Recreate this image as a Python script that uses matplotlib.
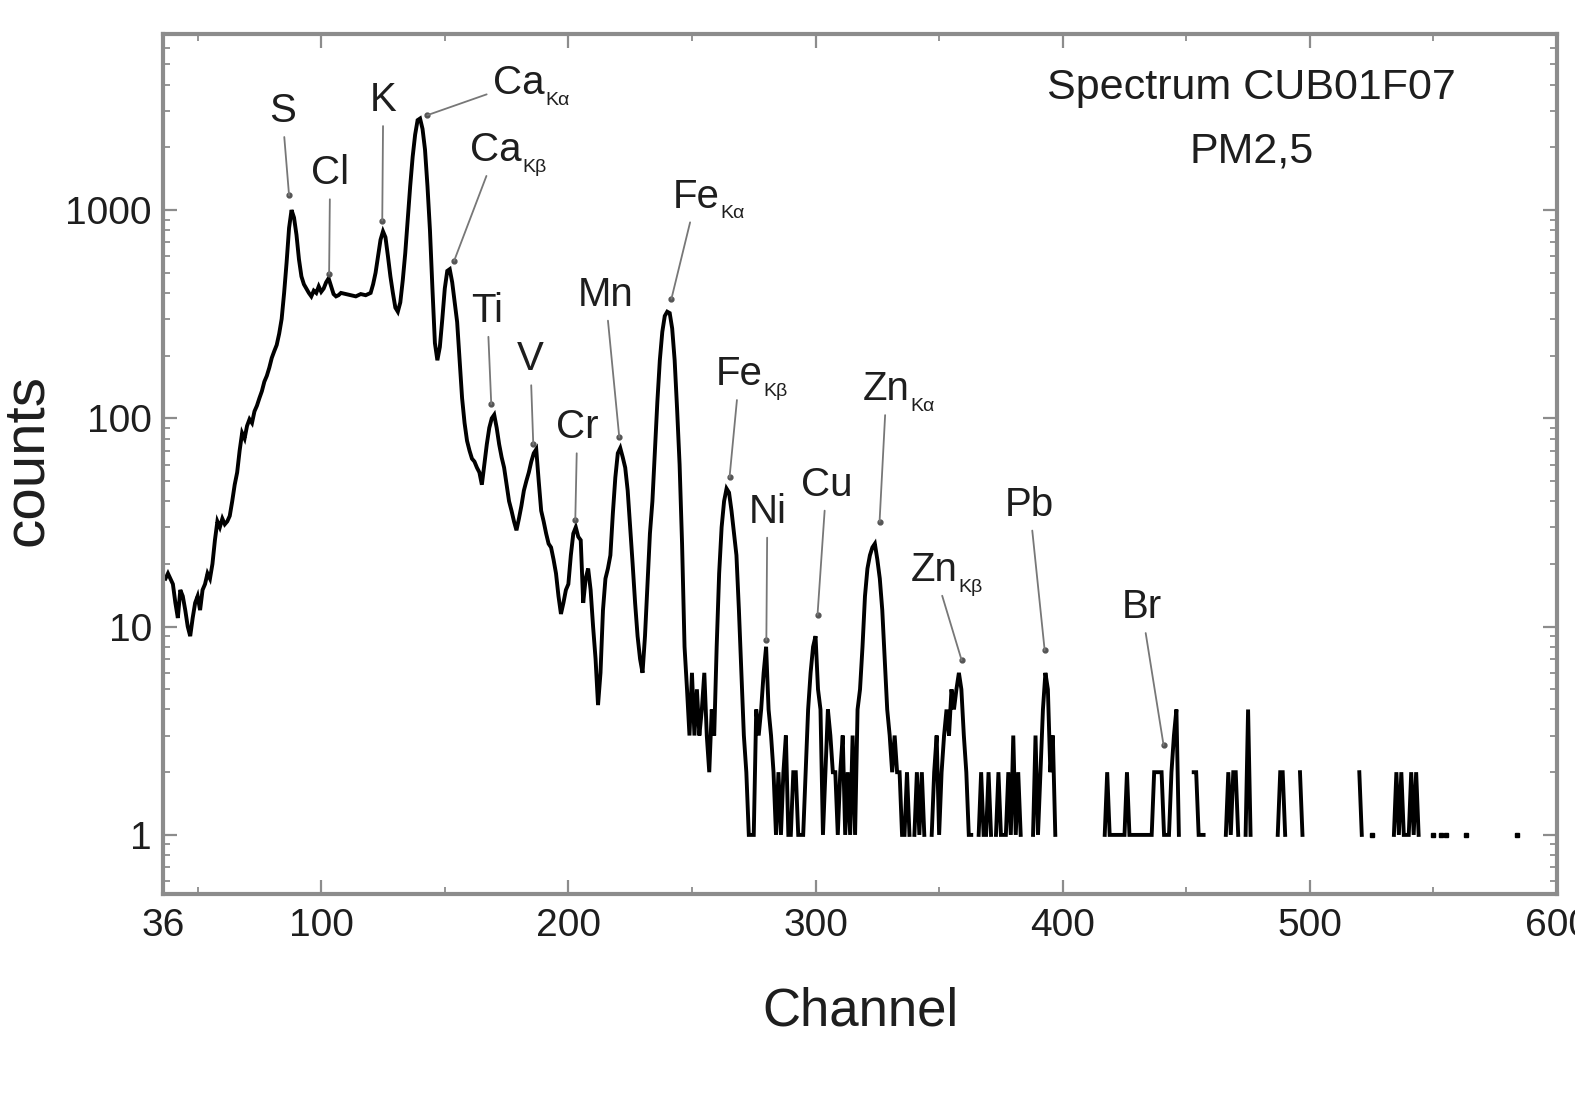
import numpy as np
import matplotlib
matplotlib.use("Agg")
import matplotlib.pyplot as plt
from matplotlib.text import Text

# ---------------- data ----------------
channels = [
    37, 38, 40, 41, 42, 43, 44, 45, 46, 47, 48, 49, 50, 51, 52, 53, 54, 55, 56, 57,
    58, 59, 60, 61, 62, 63, 64, 65, 66, 67, 68, 69, 70, 71, 72, 73, 74, 75, 76, 77,
    78, 79, 80, 81, 82, 83, 84, 85, 86, 87, 88, 89, 90, 91, 92, 93, 94, 95, 96, 97,
    98, 99, 100, 101, 102, 103, 104, 105, 106, 107, 108, 110, 112, 114, 116, 118, 120, 121, 122, 123,
    124, 125, 126, 127, 128, 129, 130, 131, 132, 133, 134, 135, 136, 137, 138, 139, 140, 141, 142, 143,
    144, 145, 146, 147, 148, 149, 150, 151, 152, 153, 154, 155, 156, 157, 158, 159, 160, 161, 162, 163,
    164, 165, 166, 167, 168, 169, 170, 171, 172, 173, 174, 175, 176, 177, 178, 179, 180, 181, 182, 183,
    184, 185, 186, 187, 188, 189, 190, 191, 192, 193, 194, 195, 196, 197, 198, 199, 200, 201, 202, 203,
    204, 205, 206, 207, 208, 209, 210, 211, 212, 213, 214, 215, 216, 217, 218, 219, 220, 221, 222, 223,
    224, 225, 226, 227, 228, 229, 230, 231, 232, 233, 234, 235, 236, 237, 238, 239, 240, 241, 242, 243,
    244, 245, 246, 247, 248, 249, 250, 251, 252, 253, 254, 255, 256, 257, 258, 259, 260, 261, 262, 263,
    264, 265, 266, 267, 268, 269, 270, 271, 272, 273, 274, 275, 276, 277, 278, 279, 280, 281, 282, 283,
    284, 285, 286, 287, 288, 289, 290, 291, 292, 293, 294, 295, 296, 297, 298, 299, 300, 301, 302, 303,
    304, 305, 306, 307, 308, 309, 310, 311, 312, 313, 314, 315, 316, 317, 318, 319, 320, 321, 322, 323,
    324, 325, 326, 327, 328, 329, 330, 331, 332, 333, 334, 335, 336, 337, 338, 339, 340, 341, 342, 343,
    344, 345, 346, 347, 348, 349, 350, 351, 352, 353, 354, 355, 356, 357, 358, 359, 360, 361, 362, 363,
    364, 366, 367, 368, 369, 370, 371, 372, 373, 374, 375, 376, 377, 378, 379, 380, 381, 382, 383, 384,
    386, 388, 389, 390, 391, 392, 393, 394, 395, 396, 397, 398,
    416, 417, 418, 419, 420, 421, 422, 423, 424, 425, 426, 427, 428, 430, 432, 434, 436, 437, 438, 439,
    440, 441, 442, 443, 444, 445, 446, 447, 448,
    452, 453, 454, 455, 456, 457, 458,
    465, 466, 467, 468, 469, 470, 471, 472, 474, 475, 476, 477,
    486, 487, 488, 489, 490, 491, 495, 496, 497, 498,
    519, 520, 521, 522, 524, 525, 526,
    533, 534, 535, 536, 537, 538, 539, 540, 541, 542, 543, 544, 545,
    549, 550, 551, 552, 553, 554, 555, 556, 562, 563, 564, 583, 584, 585,
]
counts = [
    17, 18, 16, 13, 11, 15, 14, 12, 10, 9, 11, 13, 14, 12, 15, 16, 18, 17, 20, 26,
    32, 30, 33, 31, 32, 34, 40, 48, 55, 70, 85, 80, 92, 99, 95, 108, 115, 125, 135, 150,
    160, 175, 195, 210, 225, 255, 300, 400, 560, 820, 1000, 920, 760, 580, 480, 440, 420, 400, 385, 410,
    400, 430, 405, 420, 450, 470, 430, 395, 385, 390, 400, 395, 390, 385, 395, 390, 400, 440, 500, 600,
    720, 790, 740, 600, 480, 400, 340, 325, 360, 460, 620, 900, 1300, 1800, 2300, 2700, 2750, 2450, 1950, 1300,
    800, 420, 230, 190, 220, 300, 420, 510, 520, 450, 360, 290, 190, 125, 95, 78, 70, 64, 62, 58,
    55, 48, 60, 75, 90, 100, 104, 90, 75, 65, 58, 48, 40, 36, 32, 29, 33, 38, 45, 50,
    55, 62, 68, 71, 50, 36, 32, 28, 25, 24, 21, 18, 14, 11.5, 13, 15, 16, 22, 28, 30,
    27, 26, 13, 17, 19, 15, 10, 7, 4.2, 6, 12, 17, 19, 22, 35, 52, 68, 72, 65, 58,
    45, 30, 20, 13, 9, 7, 6, 9, 16, 28, 40, 70, 120, 190, 260, 310, 325, 320, 270, 190,
    110, 60, 25, 8, 5, 3, 6, 3, 5, 3, 4, 6, 3, 2, 4, 3, 8, 18, 30, 40,
    46, 44, 36, 28, 22, 12, 6, 3, 2, 1, 1, 1, 4, 3, 4, 6, 8, 4, 3, 2,
    1, 2, 1, 2, 3, 1, 1, 2, 2, 1, 1, 1, 2, 4, 6, 8, 9, 5, 4, 1,
    2, 4, 3, 2, 2, 1, 2, 3, 1, 2, 1, 3, 1, 4, 5, 8, 14, 19, 22, 24,
    25, 21, 17, 12, 7, 4, 3, 2, 3, 2, 2, 1, 1, 2, 1, 0, 1, 2, 1, 2,
    1, 0, 0, 1, 2, 3, 1, 2, 3, 4, 3, 5, 4, 5, 6, 5, 3, 2, 1, 1,
    0, 1, 2, 1, 1, 2, 1, 0, 1, 2, 1, 1, 1, 2, 1, 3, 1, 2, 1, 0,
    0, 1, 3, 1, 2, 4, 6, 5, 2, 3, 1, 0,
    0, 1, 2, 1, 1, 1, 1, 1, 1, 1, 2, 1, 1, 1, 1, 1, 1, 2, 2, 2,
    2, 1, 1, 1, 2, 3, 4, 1, 0,
    0, 2, 2, 1, 1, 1, 0,
    0, 1, 2, 1, 2, 2, 1, 0, 1, 4, 1, 0,
    0, 1, 2, 2, 1, 0, 0, 2, 1, 0,
    0, 2, 1, 0, 0, 1, 0,
    0, 1, 2, 1, 2, 1, 1, 1, 2, 1, 2, 1, 0,
    0, 1, 0, 0, 1, 0, 1, 0, 0, 1, 0, 0, 1, 0,
]

# peak labels: main text, subscript, text position, arrow tip
label_main = ["S", "Cl", "K", "Ca", "Ca", "Ti", "V", "Cr", "Mn", "Fe", "Fe", "Ni", "Cu", "Zn", "Zn", "Pb", "Br"]
label_sub = ["", "", "", "Kα", "Kβ", "", "", "", "", "Kα", "Kβ", "", "", "Kα", "Kβ", "", ""]
label_x = [84.2, 103.6, 125.1, 180.1, 170.8, 167.2, 184.6, 203.6, 215.0, 251.8, 269.2, 280.5, 304.4, 328.7, 348.1, 386.6, 431.9]
label_y = [2985, 1500, 3370, 4075, 1936, 328, 192, 90.5, 392, 1161, 163, 35.6, 48, 138, 18.7, 38.5, 12.4]
tip_x = [87.0, 103.2, 124.7, 142.9, 153.8, 168.8, 185.8, 202.8, 220.6, 241.7, 265.2, 280.1, 300.8, 325.9, 359.1, 392.7, 440.8]
tip_y = [1175, 494, 890, 2853, 571, 117, 75, 32.6, 81, 375, 52, 8.6, 11.4, 31.9, 6.9, 7.7, 2.7]

x_ticks = [36, 100, 200, 300, 400, 500, 600]
y_ticks = [1, 10, 100, 1000]

# ---------------- style ----------------
plt.rcParams["font.family"] = ["Liberation Sans", "DejaVu Sans"]
TXT = "#1e1e1e"
FRAME = "#8c8c8c"

fig = plt.figure(figsize=(15.75, 10.97), dpi=100)
ax = fig.add_axes([0.1035, 0.185, 0.8851, 0.784])

ch = np.array(channels, dtype=float)
ct = np.array(counts, dtype=float)
ct_plot = np.where(ct > 0, ct, np.nan)
ax.plot(ch, ct_plot, color="black", lw=2.8, solid_joinstyle="miter")

# isolated single-channel counts (no neighbours) drawn as dots
iso = []
for i in range(len(ct)):
    if ct[i] > 0:
        left = ct[i - 1] if i > 0 else 0
        right = ct[i + 1] if i < len(ct) - 1 else 0
        if left <= 0 and right <= 0:
            iso.append(i)
ax.plot(ch[iso], ct[iso], "s", color="black", ms=3.5, lw=0)

ax.set_yscale("log")
ax.set_xlim(36, 600)
ax.set_ylim(0.52, 7000)

ax.set_xticks(x_ticks)
ax.set_xticklabels([str(t) for t in x_ticks])
ax.set_xticks(np.arange(50, 600, 50), minor=True)
ax.set_yticks(y_ticks)
ax.set_yticklabels([str(t) for t in y_ticks])

ax.tick_params(which="both", direction="in", top=True, right=True, colors=FRAME,
               labelcolor=TXT)
ax.tick_params(which="major", length=10, width=1.6, labelsize=28)
ax.tick_params(which="minor", length=5, width=1.3)
ax.tick_params(axis="y", pad=8)
ax.tick_params(axis="x", pad=10)
for sp in ax.spines.values():
    sp.set_color(FRAME)
    sp.set_linewidth(3)

ax.set_xlabel("Channel", fontsize=38, color=TXT)
ax.xaxis.set_label_coords(0.5, -0.108)
ax.set_ylabel("counts", fontsize=42, color=TXT)
ax.yaxis.set_label_coords(-0.078, 0.505)

ax.text(0.781, 0.937, "Spectrum CUB01F07", transform=ax.transAxes, ha="center",
        va="center", fontsize=31, color=TXT)
ax.text(0.781, 0.863, "PM2,5", transform=ax.transAxes, ha="center",
        va="center", fontsize=31, color=TXT)


def text_only_box(artist):
    return lambda renderer: Text.get_window_extent(artist, renderer)


for m, s, lx, ly, tx, ty in zip(label_main, label_sub, label_x, label_y, tip_x, tip_y):
    t = ax.annotate(m, xy=(tx, ty), xytext=(lx, ly), textcoords="data",
                    ha="center", va="center", fontsize=29, color=TXT,
                    arrowprops=dict(arrowstyle="-", color="#777777", lw=1.3,
                                    shrinkA=3, shrinkB=0))
    ax.plot([tx], [ty], "o", color="#555555", ms=3.5)
    if s:
        ax.annotate(s, xy=(1.0, 0.05), xycoords=text_only_box(t), xytext=(0.5, 0),
                    textcoords="offset points", ha="left", va="center",
                    fontsize=14, color=TXT)

fig.savefig("out.png", dpi=100)
